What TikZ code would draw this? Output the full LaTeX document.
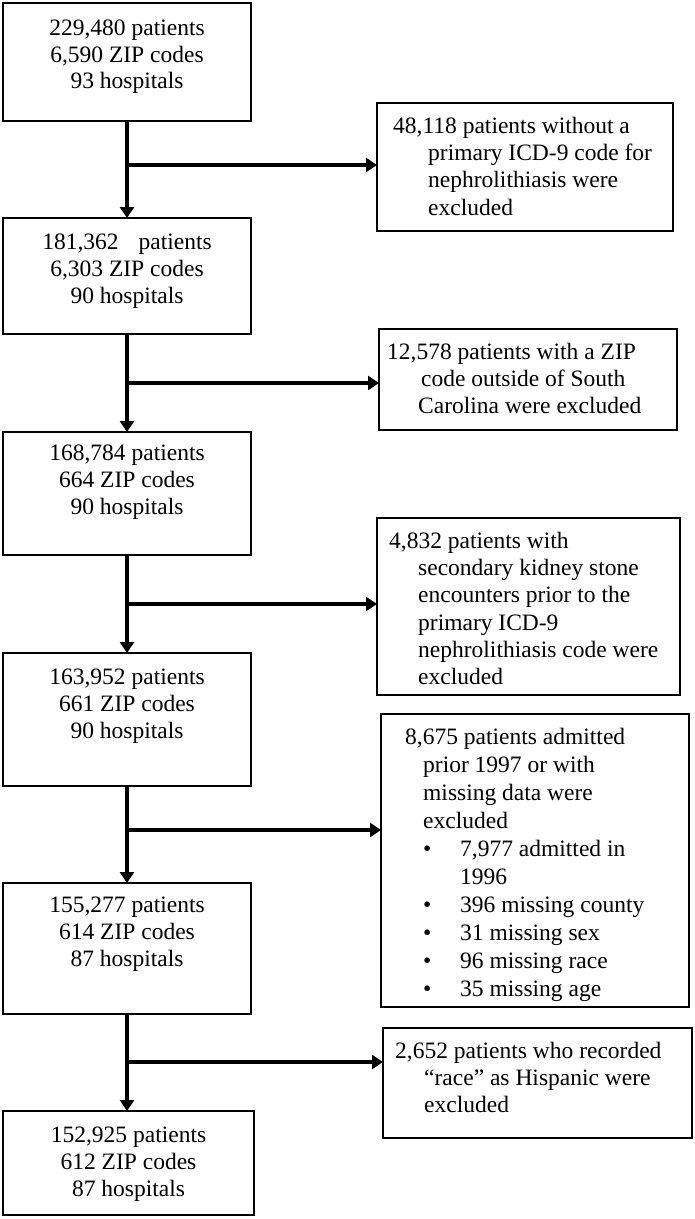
\documentclass[tikz,border=0pt]{standalone}
\usepackage{fontspec}
\setmainfont{Liberation Serif}
\usetikzlibrary{arrows.meta}
\newcommand\blt{\makebox[0pt][c]{\textbullet}}
\begin{document}
\begin{tikzpicture}[x=1pt,y=-1pt,
  box/.style={draw, line width=1.2pt, inner sep=0pt, outer sep=0pt},
  txt/.style={inner sep=0pt, anchor=north, align=center, font=\fontsize{23.5}{26.8}\selectfont},
  rtxt/.style={inner sep=0pt, anchor=north west, align=left, font=\fontsize{23.5}{27.2}\selectfont},
  arr/.style={line width=4.5pt, -{Triangle[length=11pt,width=14pt]}}]
\useasboundingbox (0,0) rectangle (695,1219);
% main boxes
\node[box, minimum width=248pt, minimum height=118pt] (b1) at (127,62) {};
\node[box, minimum width=248pt, minimum height=116pt] (b2) at (127,276) {};
\node[box, minimum width=248pt, minimum height=123pt] (b3) at (127,493.5) {};
\node[box, minimum width=248pt, minimum height=133pt] (b4) at (127,719.5) {};
\node[box, minimum width=248pt, minimum height=131pt] (b5) at (127,948.5) {};
\node[box, minimum width=251pt, minimum height=104pt] (b6) at (128.5,1163) {};
\node[txt] (t1) at ([yshift=-16.5pt]b1.north) {229,480 patients\\6,590 ZIP codes\\93 hospitals};
\node[txt] (t2) at ([yshift=-16pt]b2.north) {181,362\hspace{0.6em} patients\\6,303 ZIP codes\\90 hospitals};
\node[txt] (t3) at ([yshift=-13pt]b3.north) {168,784 patients\\664 ZIP codes\\90 hospitals};
\node[txt] (t4) at ([yshift=-16pt]b4.north) {163,952 patients\\661 ZIP codes\\90 hospitals};
\node[txt] (t5) at ([yshift=-14pt]b5.north) {155,277 patients\\614 ZIP codes\\87 hospitals};
\node[txt] (t6) at ([yshift=-16pt]b6.north) {152,925 patients\\612 ZIP codes\\87 hospitals};
% exclusion boxes
\node[box, minimum width=296pt, minimum height=128pt] (r1) at (525,167) {};
\node[box, minimum width=298pt, minimum height=101pt] (r2) at (528,379.5) {};
\node[box, minimum width=303pt, minimum height=177pt] (r3) at (528.5,606.5) {};
\node[box, minimum width=308pt, minimum height=293pt] (r4) at (535,860.5) {};
\node[box, minimum width=309pt, minimum height=110pt] (r5) at (537.5,1083) {};
\node[rtxt] (s1) at ([xshift=16pt,yshift=-14pt]r1.north west)
  {48,118 patients without a\\\hspace*{35pt}primary ICD-9 code for\\\hspace*{35pt}nephrolithiasis were\\\hspace*{35pt}excluded};
\node[rtxt] (s2) at ([xshift=8pt,yshift=-14pt]r2.north west)
  {12,578 patients with a ZIP\\\hspace*{34pt}code outside of South\\\hspace*{31pt}Carolina were excluded};
\node[rtxt] (s3) at ([xshift=12pt,yshift=-14pt]r3.north west)
  {4,832 patients with\\\hspace*{29pt}secondary kidney stone\\\hspace*{29pt}encounters prior to the\\\hspace*{29pt}primary ICD-9\\\hspace*{29pt}nephrolithiasis code were\\\hspace*{29pt}excluded};
\node[rtxt, font=\fontsize{23.5}{28}\selectfont] (s4) at ([xshift=24pt,yshift=-14pt]r4.north west)
  {8,675 patients admitted\\\hspace*{18pt}prior 1997 or with\\\hspace*{18pt}missing data were\\\hspace*{18pt}excluded\\
   \hspace*{22pt}\blt\hspace*{33pt}7,977 admitted in\\\hspace*{55pt}1996\\
   \hspace*{22pt}\blt\hspace*{33pt}396 missing county\\
   \hspace*{22pt}\blt\hspace*{33pt}31 missing sex\\
   \hspace*{22pt}\blt\hspace*{33pt}96 missing race\\
   \hspace*{22pt}\blt\hspace*{33pt}35 missing age};
\node[rtxt] (s5) at ([xshift=12pt,yshift=-14pt]r5.north west)
  {2,652 patients who recorded\\\hspace*{29pt}``race'' as Hispanic were\\\hspace*{29pt}excluded};
% junctions
\coordinate (j1) at (127,165);
\coordinate (j2) at (127,383);
\coordinate (j3) at (127,604);
\coordinate (j4) at (127,830);
\coordinate (j5) at (127,1062);
% vertical arrows
\draw[arr] (b1.south) -- (b2.north);
\draw[arr] (b2.south) -- (b3.north);
\draw[arr] (b3.south) -- (b4.north);
\draw[arr] (b4.south) -- (b5.north);
\draw[arr] (b5.south) -- (b5.south |- b6.north);
% branch arrows
\draw[arr] (j1) -- (j1 -| r1.west);
\draw[arr] (j2) -- (j2 -| r2.west);
\draw[arr] (j3) -- (j3 -| r3.west);
\draw[arr] (j4) -- (j4 -| r4.west);
\draw[arr] (j5) -- (j5 -| r5.west);
\end{tikzpicture}
\end{document}
